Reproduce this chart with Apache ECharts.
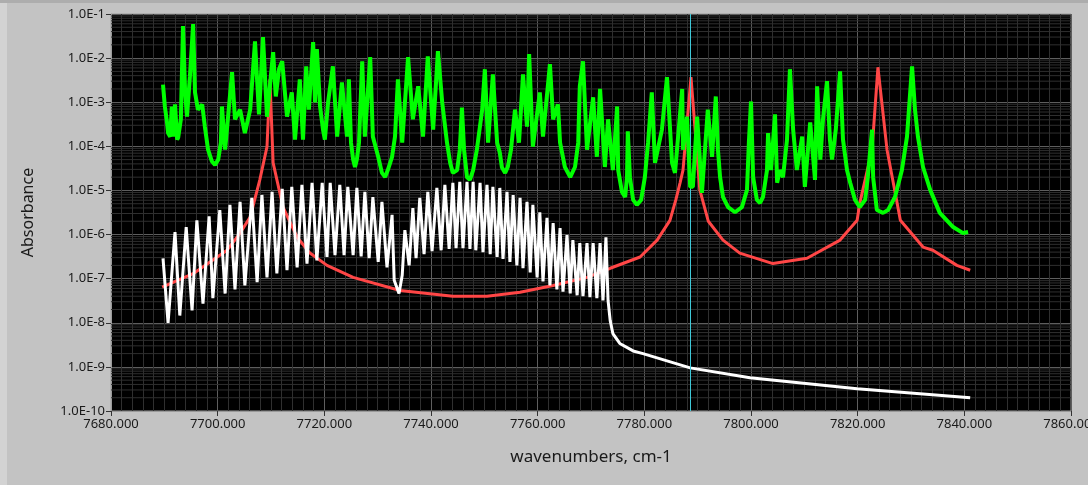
<!DOCTYPE html>
<html>
<head>
<meta charset="utf-8">
<script src="https://cdn.jsdelivr.net/npm/echarts@6/dist/echarts.min.js"></script>
<style>
html,body{margin:0;padding:0;background:#c3c3c3;}
#c{width:1088px;height:485px;}
</style>
</head>
<body>
<div id="c"></div>
<script>
// ---- data ----
const xTicks = [7680, 7700, 7720, 7740, 7760, 7780, 7800, 7820, 7840, 7860];
const yTickLabels = ['1.0E-10','1.0E-9','1.0E-8','1.0E-7','1.0E-6','1.0E-5','1.0E-4','1.0E-3','1.0E-2','1.0E-1'];
const cursorX = 7788.6;

const redX = [7689.6, 7695.4, 7701.75, 7704.2, 7706.1, 7707.9, 7709.25, 7709.8, 7710.4, 7712.25, 7714.9, 7717.3, 7720.5, 7725.4, 7734.2, 7744.1, 7750.5, 7756.7, 7762.9, 7769.25, 7773.6, 7779.2, 7782.4, 7784.8, 7785.9, 7786.7, 7787.25, 7788.75, 7790.4, 7792.0, 7794.75, 7797.9, 7804.1, 7810.5, 7816.7, 7819.9, 7820.4, 7822.7, 7823.8, 7825.5, 7827.4, 7828.0, 7832.25, 7834.1, 7838.6, 7841.1];
const redY = [6.4e-8, 1.3e-7, 4.4e-7, 1.08e-6, 2.5e-6, 1.74e-5, 9.8e-5, 3.3e-3, 4.2e-5, 4.2e-6, 8.7e-7, 3.8e-7, 2.0e-7, 1.07e-7, 5.4e-8, 4.0e-8, 4.0e-8, 4.9e-8, 7.0e-8, 1.07e-7, 1.72e-7, 3.1e-7, 7.5e-7, 2.1e-6, 6.1e-6, 1.49e-5, 2.9e-5, 3.7e-3, 1.03e-5, 2.0e-6, 7.5e-7, 3.8e-7, 2.2e-7, 2.9e-7, 7.5e-7, 2.1e-6, 5.2e-6, 8.4e-5, 6.2e-3, 8.4e-5, 5.2e-6, 2.1e-6, 5.2e-7, 4.4e-7, 2.0e-7, 1.55e-7];

const whiteX = [7689.75, 7690.7, 7692.0, 7692.9, 7694.1, 7695.2, 7696.1, 7697.25, 7698.4, 7699.1, 7700.4, 7701.4, 7702.3, 7703.25, 7704.2, 7705.1, 7706.4, 7707.4, 7708.3, 7709.25, 7710.2, 7711.1, 7712.1, 7713.0, 7713.9, 7714.9, 7715.8, 7716.75, 7717.7, 7718.6, 7719.6, 7720.5, 7721.1, 7722.0, 7722.9, 7723.7, 7724.4, 7725.4, 7726.1, 7726.9, 7727.6, 7728.4, 7729.1, 7730.1, 7730.8, 7731.75, 7732.7, 7733.1, 7734.0, 7734.6, 7735.1, 7735.9, 7736.6, 7737.2, 7737.9, 7738.7, 7739.4, 7740.2, 7741.1, 7741.9, 7742.6, 7743.4, 7744.1, 7744.7, 7745.4, 7746.0, 7746.75, 7747.3, 7747.9, 7748.4, 7749.2, 7749.75, 7750.5, 7751.1, 7751.6, 7752.4, 7752.9, 7753.5, 7754.25, 7754.8, 7755.4, 7756.1, 7756.7, 7757.25, 7758.0, 7758.6, 7759.1, 7759.9, 7760.4, 7761.0, 7761.75, 7762.3, 7762.9, 7763.6, 7764.2, 7764.75, 7765.5, 7766.1, 7766.6, 7767.4, 7767.9, 7768.5, 7769.25, 7769.8, 7770.4, 7771.1, 7771.7, 7772.25, 7772.8, 7773.2, 7773.6, 7774.1, 7775.4, 7777.9, 7779.75, 7788.6, 7799.8, 7819.9, 7841.1];
const whiteY = [2.9e-7, 1.0e-8, 1.14e-6, 1.46e-8, 1.48e-6, 1.9e-8, 2.1e-6, 2.7e-8, 2.6e-6, 3.6e-8, 3.6e-6, 4.6e-8, 4.7e-6, 5.7e-8, 5.5e-6, 7.0e-8, 6.8e-6, 8.3e-8, 7.9e-6, 1.07e-7, 9.3e-6, 1.32e-7, 1.09e-5, 1.55e-7, 1.21e-5, 1.81e-7, 1.34e-5, 2.2e-7, 1.49e-5, 2.6e-7, 1.49e-5, 3.1e-7, 1.49e-5, 3.4e-7, 1.34e-5, 3.4e-7, 1.21e-5, 3.4e-7, 1.14e-5, 3.2e-7, 9.3e-6, 2.9e-7, 7.1e-6, 2.4e-7, 5.5e-6, 1.81e-7, 2.8e-6, 9.2e-8, 4.6e-8, 1.19e-7, 1.26e-6, 2.0e-7, 4.0e-6, 2.9e-7, 6.8e-6, 3.6e-7, 9.3e-6, 4.2e-7, 1.14e-5, 4.4e-7, 1.34e-5, 4.7e-7, 1.49e-5, 4.9e-7, 1.57e-5, 4.9e-7, 1.57e-5, 4.7e-7, 1.57e-5, 4.4e-7, 1.49e-5, 4.0e-7, 1.34e-5, 3.6e-7, 1.21e-5, 3.1e-7, 1.14e-5, 2.8e-7, 9.3e-6, 2.4e-7, 7.9e-6, 2.0e-7, 6.8e-6, 1.72e-7, 5.5e-6, 1.39e-7, 4.7e-6, 1.07e-7, 3.2e-6, 8.7e-8, 2.4e-6, 7.0e-8, 1.82e-6, 5.7e-8, 1.40e-6, 5.1e-8, 9.7e-7, 4.6e-8, 7.5e-7, 4.2e-8, 6.4e-7, 4.0e-8, 6.4e-7, 3.8e-8, 6.4e-7, 3.6e-8, 6.4e-7, 3.2e-8, 8.7e-7, 3.2e-8, 1.12e-8, 5.7e-9, 3.4e-9, 2.3e-9, 2.0e-9, 9.5e-10, 5.7e-10, 3.2e-10, 2.0e-10];

const greenX = [7689.75, 7690.1, 7690.5, 7690.7, 7691.1, 7691.4, 7691.6, 7692.0, 7692.4, 7692.6, 7693.1, 7693.5, 7693.9, 7694.25, 7694.8, 7695.4, 7695.75, 7696.3, 7697.1, 7697.6, 7698.2, 7698.9, 7699.5, 7700.1, 7700.6, 7700.8, 7701.4, 7702.7, 7703.25, 7704.2, 7705.1, 7706.1, 7707.0, 7707.75, 7708.5, 7709.25, 7710.4, 7710.9, 7711.5, 7712.1, 7713.0, 7713.9, 7714.5, 7715.4, 7716.0, 7716.6, 7717.1, 7717.9, 7718.25, 7718.6, 7719.2, 7719.75, 7720.1, 7720.7, 7721.6, 7722.4, 7723.3, 7724.25, 7724.6, 7725.0, 7725.4, 7725.75, 7726.1, 7726.5, 7727.1, 7727.6, 7728.6, 7729.1, 7730.1, 7730.8, 7731.4, 7731.9, 7732.7, 7733.25, 7733.8, 7734.6, 7735.7, 7736.6, 7737.6, 7738.5, 7739.4, 7740.4, 7741.3, 7742.1, 7743.0, 7743.6, 7744.1, 7744.9, 7745.4, 7745.8, 7746.2, 7746.75, 7747.3, 7747.9, 7748.6, 7749.6, 7750.1, 7750.7, 7751.6, 7752.4, 7752.9, 7753.3, 7753.9, 7754.4, 7755.0, 7755.75, 7756.5, 7757.25, 7758.0, 7758.4, 7759.1, 7760.4, 7761.0, 7762.3, 7762.9, 7763.8, 7764.2, 7765.1, 7766.1, 7767.0, 7767.6, 7767.9, 7768.5, 7769.25, 7770.4, 7771.1, 7771.7, 7772.6, 7773.2, 7774.1, 7774.9, 7775.1, 7775.8, 7776.4, 7776.75, 7776.9, 7777.3, 7777.9, 7778.6, 7779.4, 7780.1, 7780.7, 7781.4, 7782.0, 7783.3, 7784.25, 7785.2, 7785.75, 7787.1, 7787.25, 7788.0, 7788.6, 7789.1, 7789.9, 7790.8, 7791.9, 7792.7, 7793.4, 7793.8, 7794.2, 7794.75, 7795.7, 7797.0, 7798.3, 7799.25, 7799.6, 7800.0, 7800.4, 7801.1, 7801.7, 7802.25, 7803.0, 7803.2, 7803.75, 7804.5, 7804.9, 7805.4, 7806.0, 7806.75, 7807.3, 7807.9, 7808.6, 7809.6, 7810.1, 7811.1, 7812.0, 7812.4, 7813.0, 7813.5, 7814.25, 7814.8, 7815.2, 7815.9, 7816.7, 7817.25, 7818.0, 7818.6, 7819.5, 7820.4, 7821.4, 7821.9, 7822.7, 7822.9, 7823.6, 7824.75, 7825.7, 7827.0, 7828.3, 7829.25, 7830.2, 7830.75, 7831.3, 7832.25, 7833.6, 7835.4, 7837.9, 7839.75, 7840.7];
const greenY = [2.5e-3, 8.0e-4, 3.5e-4, 2.0e-4, 1.66e-4, 8.0e-4, 1.66e-4, 8.9e-4, 1.42e-4, 1.58e-4, 4.1e-4, 5.3e-2, 1.67e-3, 4.7e-4, 3.9e-3, 5.9e-2, 1.67e-3, 6.8e-4, 8.9e-4, 2.8e-4, 8.4e-5, 4.6e-5, 3.8e-5, 5.0e-5, 1.21e-4, 8.0e-4, 8.4e-5, 4.8e-3, 4.1e-4, 6.8e-4, 2.0e-4, 6.8e-4, 2.4e-2, 5.3e-4, 3.0e-2, 4.7e-4, 1.36e-2, 1.35e-3, 5.6e-3, 8.5e-3, 4.7e-4, 1.67e-3, 1.42e-4, 3.3e-3, 1.42e-4, 6.5e-3, 6.8e-4, 2.3e-2, 9.9e-4, 1.6e-2, 8.0e-4, 2.4e-4, 1.42e-4, 9.9e-4, 6.5e-3, 1.66e-4, 2.8e-3, 1.66e-4, 3.3e-3, 1.21e-4, 5.0e-5, 3.4e-5, 5.0e-5, 1.21e-4, 8.5e-3, 1.66e-4, 1.05e-2, 1.66e-4, 5.8e-5, 2.5e-5, 2.0e-5, 2.9e-5, 5.8e-5, 1.66e-4, 3.3e-3, 1.21e-4, 1.05e-2, 4.1e-4, 2.3e-3, 1.66e-4, 1.10e-2, 2.4e-4, 1.44e-2, 9.9e-4, 1.21e-4, 4.2e-5, 2.5e-5, 2.9e-5, 8.4e-5, 7.6e-4, 8.4e-5, 2.0e-5, 1.74e-5, 2.9e-5, 8.4e-5, 6.8e-4, 5.6e-3, 1.21e-4, 4.3e-3, 1.21e-4, 7.2e-5, 3.3e-5, 2.5e-5, 3.4e-5, 8.4e-5, 6.8e-4, 1.21e-4, 4.3e-3, 2.8e-4, 1.23e-2, 9.8e-5, 1.67e-3, 1.66e-4, 7.3e-3, 4.1e-4, 8.9e-4, 1.21e-4, 3.4e-5, 2.0e-5, 3.4e-5, 1.21e-4, 2.3e-3, 8.5e-3, 8.4e-5, 1.29e-3, 5.8e-5, 2.0e-3, 3.4e-5, 4.1e-4, 2.9e-5, 8.0e-4, 2.9e-5, 9.3e-6, 7.1e-6, 2.0e-5, 2.2e-4, 2.0e-5, 6.1e-6, 4.7e-6, 6.1e-6, 2.0e-5, 1.21e-4, 1.67e-3, 4.2e-5, 2.4e-4, 3.7e-3, 4.2e-5, 2.5e-5, 2.0e-3, 8.4e-5, 4.7e-4, 1.21e-5, 1.21e-5, 4.7e-4, 8.8e-6, 6.8e-4, 5.8e-5, 1.35e-3, 8.4e-5, 2.0e-5, 7.1e-6, 4.2e-6, 3.2e-6, 4.2e-6, 1.03e-5, 1.21e-4, 1.04e-3, 2.0e-5, 6.1e-6, 5.2e-6, 7.1e-6, 2.9e-5, 2.0e-4, 2.9e-5, 5.3e-4, 1.49e-5, 2.9e-5, 2.0e-5, 1.42e-4, 5.6e-3, 2.4e-4, 2.9e-5, 1.66e-4, 1.21e-5, 3.5e-4, 1.74e-5, 2.3e-3, 5.0e-5, 4.1e-4, 3.0e-3, 1.42e-4, 5.0e-5, 2.4e-4, 5.0e-3, 1.42e-4, 2.9e-5, 1.49e-5, 6.1e-6, 4.2e-6, 6.1e-6, 2.0e-5, 2.4e-4, 2.0e-5, 3.6e-6, 3.1e-6, 3.6e-6, 7.1e-6, 2.9e-5, 1.66e-4, 6.5e-3, 6.8e-4, 1.66e-4, 3.4e-5, 1.03e-5, 3.1e-6, 1.48e-6, 1.08e-6, 1.14e-6];

// ---- build chart ----
function zip(xs, ys) { return xs.map((x, i) => [x, ys[i]]); }
const xMin = xTicks[0], xMax = xTicks[xTicks.length - 1];
const minorVals = [];
for (let e = -10; e <= -2; e++) {
  for (let m = 2; m <= 9; m++) minorVals.push(m * Math.pow(10, e));
}
const FONT = 'Noto Sans';
const minorSeries = minorVals.map(v => ({
  type: 'line', data: [[xMin, v], [xMax, v]], silent: true, showSymbol: false, z: 1,
  lineStyle: { color: '#2f2f2f', width: 1 }, tooltip: { show: false }
}));
const chart = echarts.init(document.getElementById('c'), null, { renderer: 'canvas' });
chart.setOption({
  animation: false,
  backgroundColor: '#c3c3c3',
  graphic: [
    { type: 'rect', left: 0, top: 0, shape: { width: 1088, height: 3 }, style: { fill: '#adadad' }, z: -10, silent: true },
    { type: 'rect', left: 0, top: 3, shape: { width: 7, height: 482 }, style: { fill: '#d3d3d3' }, z: -10, silent: true }
  ],
  grid: { left: 111, right: 17, top: 14, bottom: 74, containLabel: false, outerBoundsMode: 'none',
    show: true, backgroundColor: '#000000', borderColor: '#9a9a9a', borderWidth: 1 },
  xAxis: {
    type: 'value', min: xMin, max: xMax, interval: 20,
    name: 'wavenumbers, cm-1', nameLocation: 'middle', nameGap: 38,
    nameTextStyle: { fontFamily: FONT, fontSize: 17, color: '#1a1a1a' },
    axisLine: { show: true, lineStyle: { color: '#9a9a9a' } },
    axisTick: { show: true, length: 5, lineStyle: { color: '#333' } },
    axisLabel: { fontFamily: FONT, fontSize: 13, color: '#1a1a1a', margin: 7, formatter: v => v.toFixed(3) },
    splitLine: { show: true, lineStyle: { color: '#5e5e5e', width: 1 } },
    minorTick: { show: false, splitNumber: 10 },
    minorSplitLine: { show: true, lineStyle: { color: '#2f2f2f', width: 1 } }
  },
  yAxis: {
    type: 'log', logBase: 10, min: 1e-10, max: 1e-1, interval: 1,
    name: 'Absorbance', nameLocation: 'middle', nameGap: 75,
    nameTextStyle: { fontFamily: FONT, fontSize: 16, color: '#1a1a1a' },
    axisLine: { show: true, lineStyle: { color: '#9a9a9a' } },
    axisTick: { show: true, length: 5, lineStyle: { color: '#333' } },
    axisLabel: { fontFamily: FONT, fontSize: 13, color: '#1a1a1a', margin: 6,
      formatter: v => yTickLabels[Math.round(Math.log10(v)) + 10] },
    splitLine: { show: true, lineStyle: { color: '#5e5e5e', width: 1 } }
  },
  series: minorSeries.concat([
    { name: 'red', type: 'line', data: zip(redX, redY), showSymbol: false, z: 3,
      lineStyle: { color: '#ff4646', width: 3 }, itemStyle: { color: '#ff4646' } },
    { name: 'white', type: 'line', data: zip(whiteX, whiteY), showSymbol: false, z: 4,
      lineStyle: { color: '#ffffff', width: 3 }, itemStyle: { color: '#ffffff' } },
    { name: 'green', type: 'line', data: zip(greenX, greenY), showSymbol: false, z: 5,
      lineStyle: { color: '#00ff00', width: 4 }, itemStyle: { color: '#00ff00' } },
    { type: 'line', data: [], silent: true, z: 6,
      markLine: { silent: true, symbol: 'none', label: { show: false },
        lineStyle: { color: '#3ec9d9', width: 1, type: 'solid' }, data: [{ xAxis: cursorX }] } }
  ])
});
</script>
</body>
</html>
